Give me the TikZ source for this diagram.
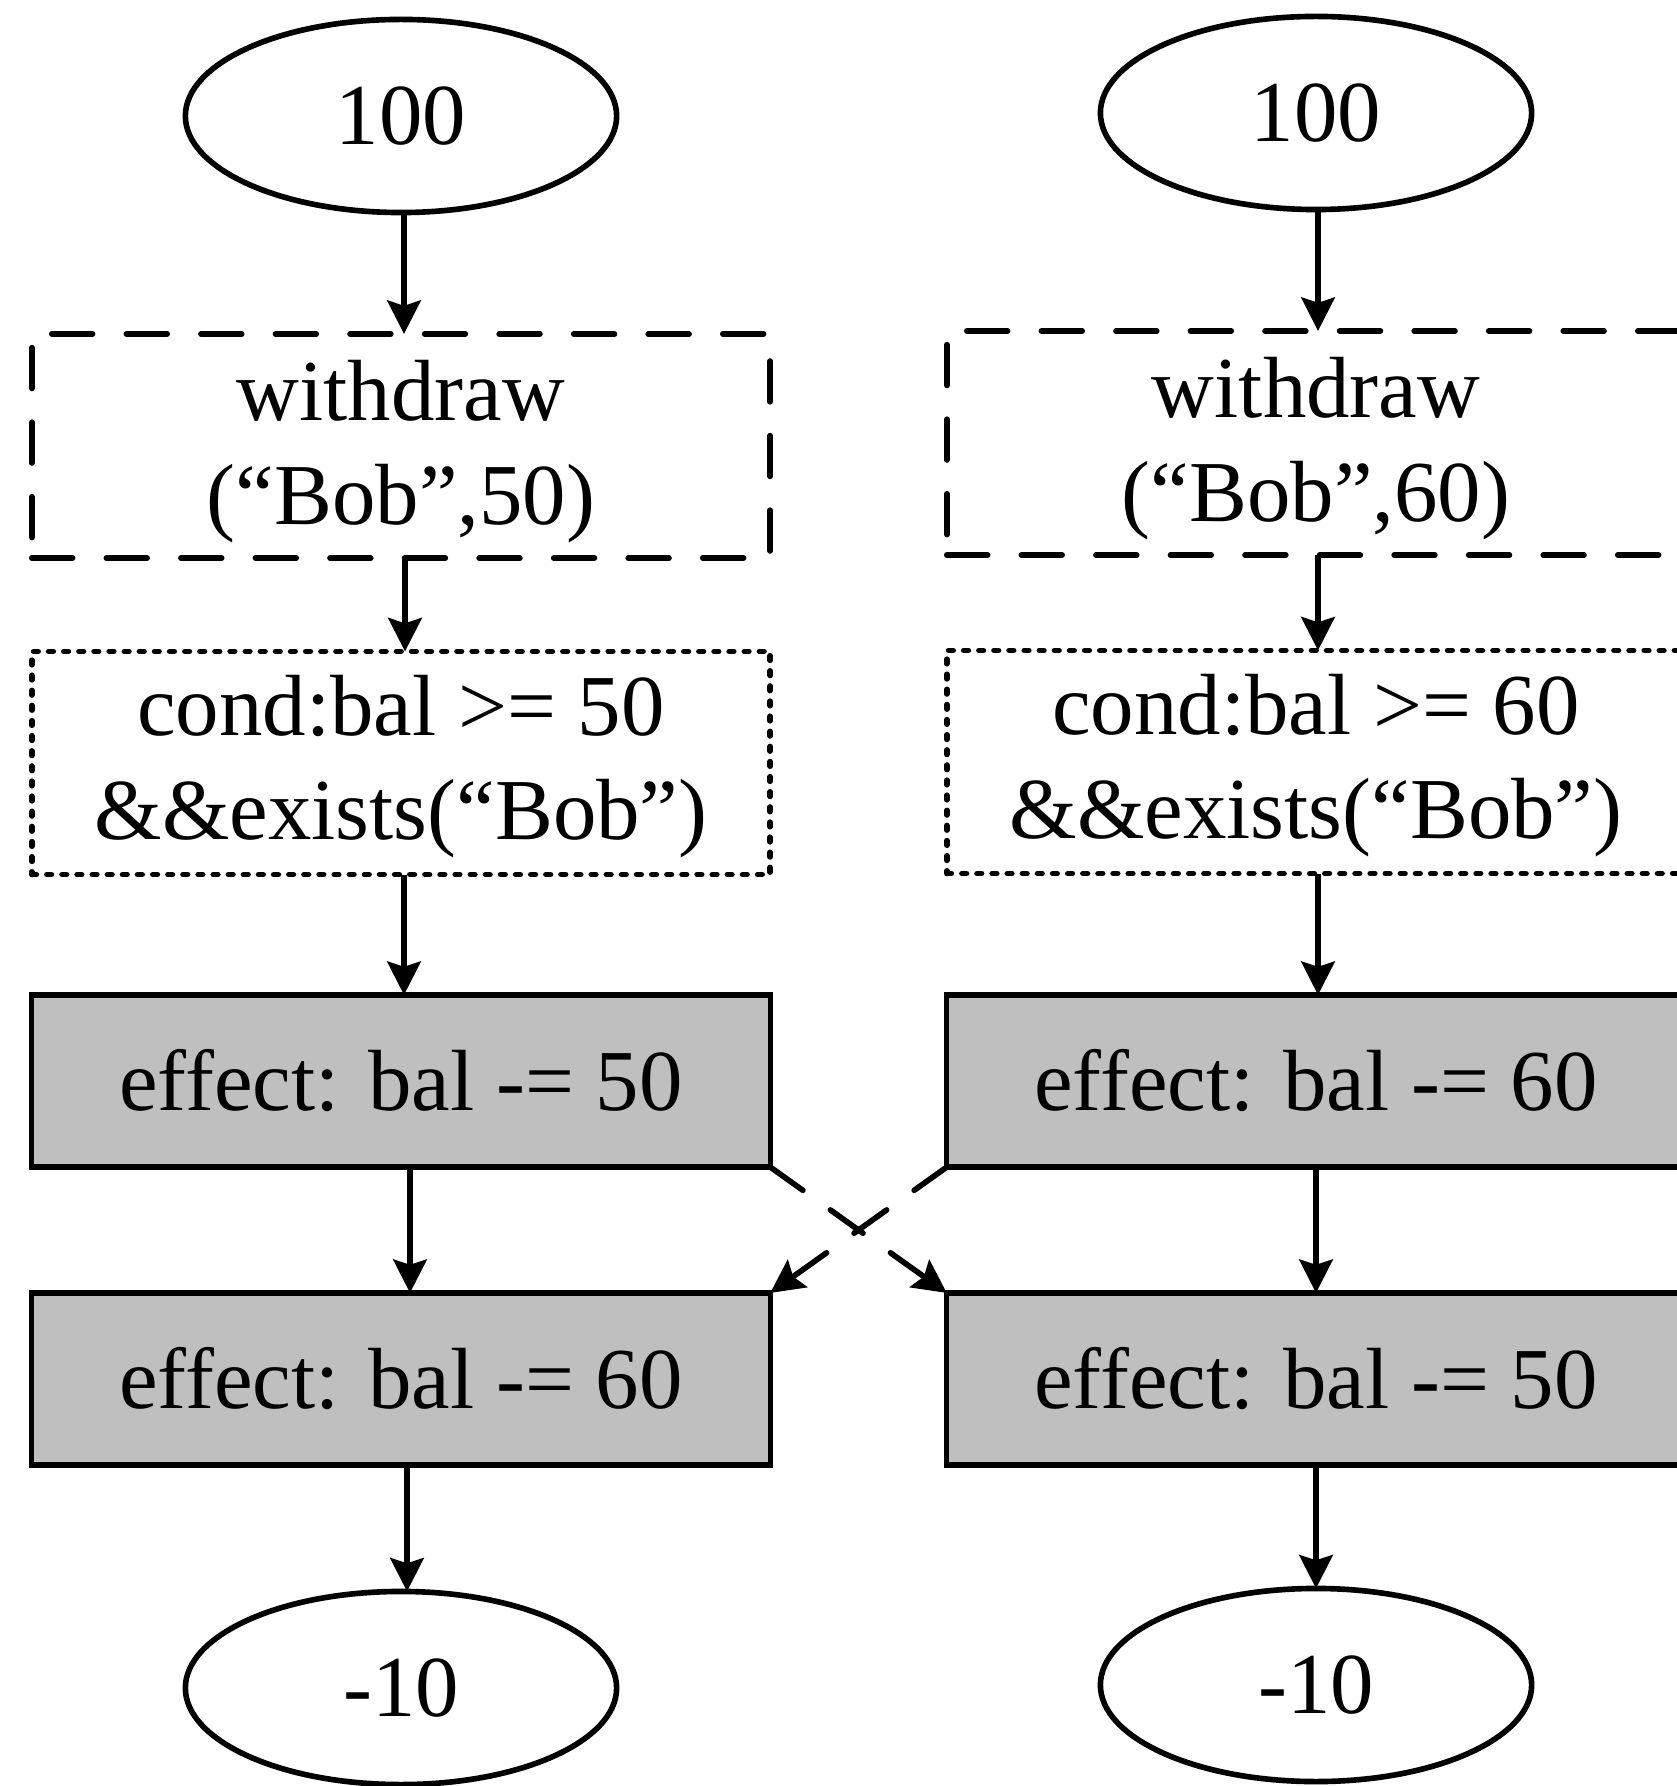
\documentclass[tikz,border=0pt]{standalone}
\usepackage{fontspec}
\setmainfont{Liberation Serif}
\usetikzlibrary{shapes.geometric,arrows.meta}
\definecolor{effectgray}{RGB}{191,191,191}
\begin{document}
\begin{tikzpicture}[x=0.01cm,y=-0.01cm,
  every node/.style={font=\fontsize{24.7}{29.6}\selectfont, inner sep=0pt, outer sep=0pt, align=center},
  state/.style={ellipse, draw, line width=1.6pt, minimum width=4.31cm, minimum height=1.93cm},
  opbox/.style={rectangle, draw, line width=1.6pt, minimum width=7.38cm, minimum height=2.24cm,
    dash pattern=on 11.6pt off 9.6pt, line cap=round, text depth=2pt},
  condbox/.style={rectangle, draw, line width=1.6pt, minimum width=7.38cm, minimum height=2.23cm,
    dash pattern=on 1.3pt off 3pt, line cap=round, text depth=3pt},
  effbox/.style={rectangle, draw, fill=effectgray, line width=1.5pt, minimum width=7.38cm, minimum height=1.72cm},
  flow/.style={line width=1.6pt, -{Stealth[length=9.5pt,width=9.5pt,inset=1.5pt]}},
  swapflow/.style={flow, dash pattern=on 11.4pt off 9.6pt, line cap=round}
]
\useasboundingbox (0,0) rectangle (1676,1786);

% left transaction
\node[state]   (s1) at (401,116)  {100};
\node[opbox]   (w1) at (401,446)  {withdraw\\(“Bob”,50)};
\node[condbox] (c1) at (401,763)  {cond:bal >= 50\\\&\&exists(“Bob”)};
\node[effbox]  (e1) at (401,1081) {effect: bal -= 50};
\node[effbox]  (f1) at (401,1379) {effect: bal -= 60};
\node[state]   (t1) at (401,1688) {-10};

% right transaction
\node[state]   (s2) at (1316,113)  {100};
\node[opbox]   (w2) at (1316,443)  {withdraw\\(“Bob”,60)};
\node[condbox] (c2) at (1316,762)  {cond:bal >= 60\\\&\&exists(“Bob”)};
\node[effbox]  (e2) at (1316,1081) {effect: bal -= 60};
\node[effbox]  (f2) at (1316,1379) {effect: bal -= 50};
\node[state]   (t2) at (1316,1685) {-10};

% sequential flow
\draw[flow] ([xshift=0.03cm]s1.south) -- ([xshift=0.03cm]w1.north);
\draw[flow] ([xshift=0.04cm]w1.south) -- ([xshift=0.04cm]c1.north);
\draw[flow] ([xshift=0.03cm]c1.south) -- ([xshift=0.03cm]e1.north);
\draw[flow] ([xshift=0.09cm]e1.south) -- ([xshift=0.09cm]f1.north);
\draw[flow] ([xshift=0.06cm]f1.south) -- ([xshift=0.06cm]t1.north);

\draw[flow] ([xshift=0.02cm]s2.south) -- ([xshift=0.02cm]w2.north);
\draw[flow] ([xshift=0.02cm]w2.south) -- ([xshift=0.02cm]c2.north);
\draw[flow] ([xshift=0.02cm]c2.south) -- ([xshift=0.02cm]e2.north);
\draw[flow] (e2.south) -- (f2.north);
\draw[flow] (f2.south) -- (t2.north);

% effects propagated to the other replica
\draw[swapflow] (e1.south east) -- (f2.north west);
\draw[swapflow] (e2.south west) -- (f1.north east);
\end{tikzpicture}
\end{document}
